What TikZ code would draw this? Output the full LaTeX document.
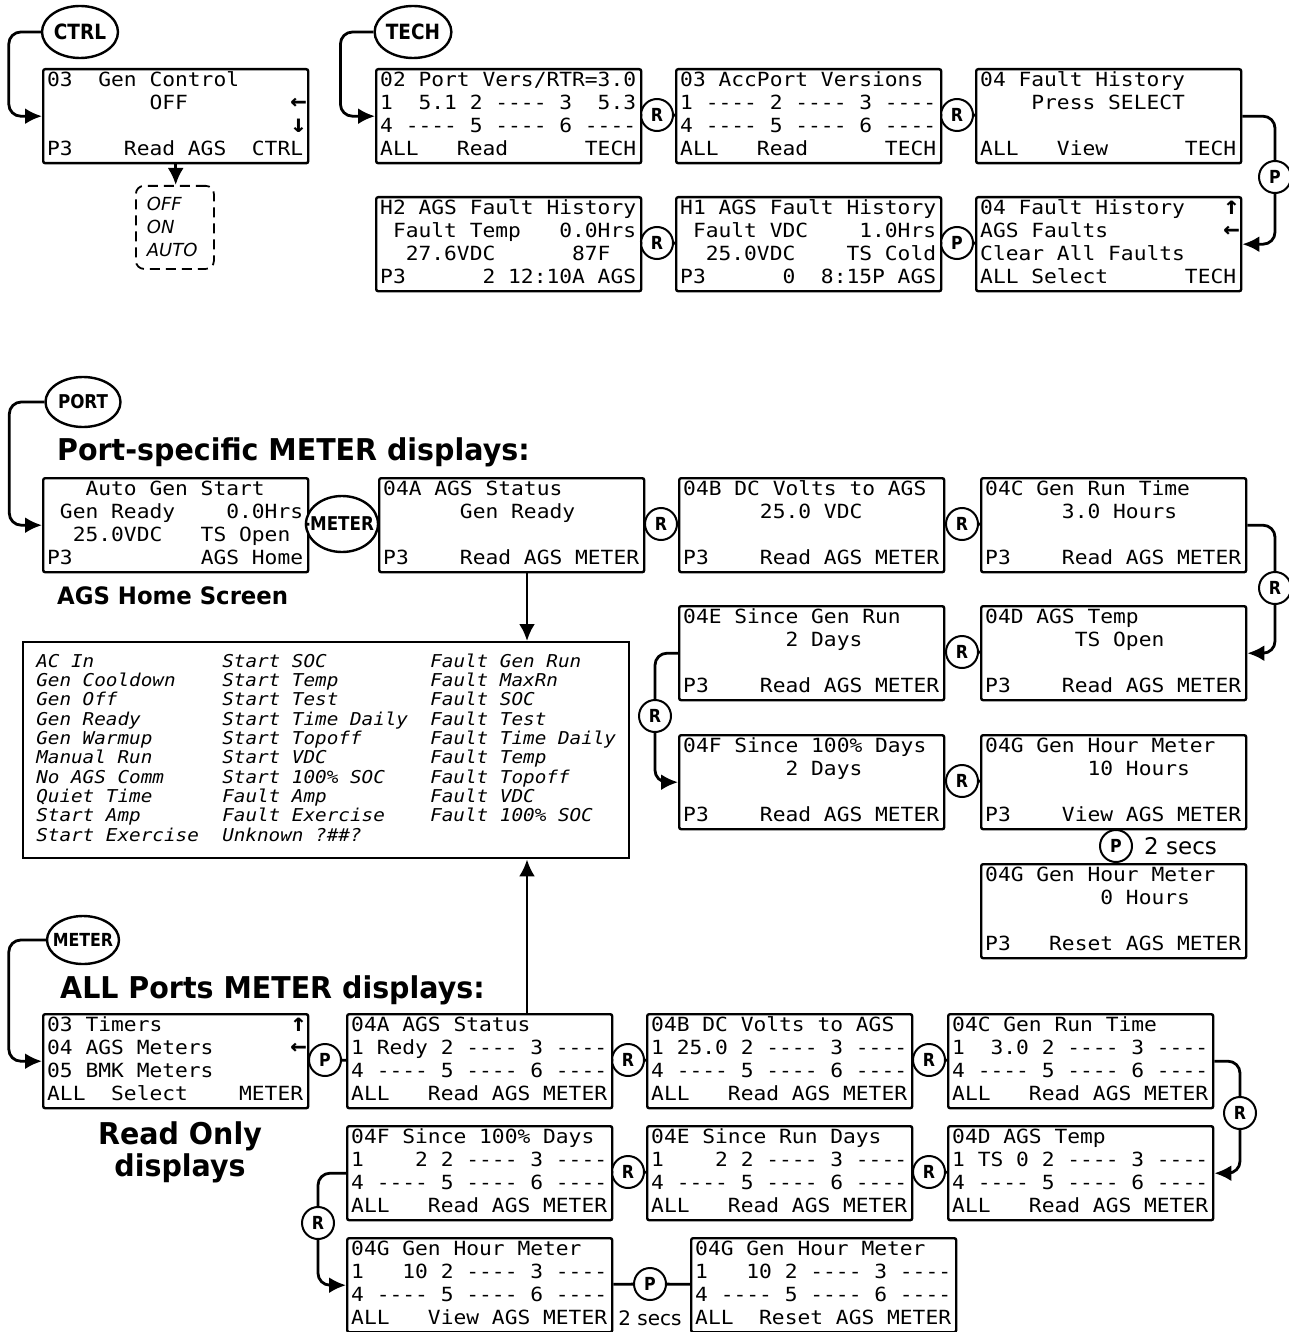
\documentclass[tikz,border=0pt]{standalone}
\usepackage{fontspec}
\setmainfont{DejaVu Sans}
\newfontfamily\lcdfont{DejaVu Sans Mono}[FakeStretch=1.09,WordSpace={1,0,0}]
\newfontfamily\headfont{DejaVu Sans}[FakeStretch=0.95]
\newfontfamily\keyfont{DejaVu Sans}[FakeStretch=0.88]
\usetikzlibrary{shapes.geometric,arrows.meta,positioning}
\newcommand{\lcd}[4]{\hyphenpenalty=10000\relax\strut#1\\\strut#2\\\strut#3\\\strut#4}
\newcommand{\cur}[1]{\rlap{\bfseries\fontsize{25pt}{23pt}\selectfont#1}}
\tikzset{
  screen/.style={draw, line width=2.4pt, rounded corners=2pt, anchor=north west,
    inner xsep=4pt, inner ysep=1pt, text width=257pt, align=flush left,
    font=\lcdfont\fontsize{19.5pt}{23pt}\selectfont},
  key/.style={circle, draw, line width=2pt, fill=white, inner sep=0pt,
    minimum size=32pt, font=\keyfont\bfseries\fontsize{18pt}{18pt}\selectfont},
  btn/.style={ellipse, draw, line width=2.4pt, fill=white, inner sep=0pt,
    minimum width=76pt, minimum height=52pt,
    font=\keyfont\bfseries\fontsize{21pt}{21pt}\selectfont},
  choices/.style={draw, line width=1.8pt, dash pattern=on 10pt off 6pt,
    rounded corners=8pt, anchor=north west, minimum width=78pt, minimum height=83pt,
    text width=56pt, inner xsep=11pt, align=flush left,
    font=\itshape\fontsize{18pt}{23pt}\selectfont},
  statebox/.style={draw, line width=2.4pt, anchor=north west, inner sep=0pt,
    minimum width=606pt, minimum height=216pt,
    font=\lcdfont\itshape\fontsize{17.7pt}{19.3pt}\selectfont},
  conn/.style={line width=2.8pt, rounded corners=12pt},
  arr/.style={conn, -{Latex[length=17pt,width=16pt]}},
  title/.style={anchor=west, inner sep=0pt, font=\headfont\bfseries\fontsize{30pt}{32pt}\selectfont},
  secs/.style={inner sep=0pt, font=\fontsize{20pt}{20pt}\selectfont},
}
\begin{document}
\begin{tikzpicture}[x=1pt,y=-1pt]
  \useasboundingbox (0,0) rectangle (1289,1332);
  % CTRL menu
  \node[btn] (ctrl) at (80,32) {CTRL};
  \node[screen] (gc) at (42,68) {\lcd{03~~Gen~Control}{~~~~~~~~OFF~~~~~~~~\cur{←}}{~~~~~~~~~~~~~~~~~~~\cur{↓}}{P3~~~~Read~AGS~~CTRL}};
  \node[choices] (opts) at (135,185) {OFF\\ON\\AUTO};
  \draw[arr] (ctrl.west) -- ++(-32,0) |- (gc.west);
  \draw[arr,rounded corners=0pt] (gc.south) -- (gc.south |- opts.north);
  % TECH menu
  \node[btn, minimum width=74pt] (tech) at (413,32) {TECH};
  \node[screen] (pv) at (375,68) {\lcd{02~Port~Vers/RTR=3.0}{1~~5.1~2~----~3~~5.3}{4~----~5~----~6~----}{ALL~~~Read~~~~~~TECH}};
  \node[screen] (apv) at (675,68) {\lcd{03~AccPort~Versions}{1~----~2~----~3~----}{4~----~5~----~6~----}{ALL~~~Read~~~~~~TECH}};
  \node[screen] (fh) at (975,68) {\lcd{04~Fault~History}{~~~~Press~SELECT}{~}{ALL~~~View~~~~~~TECH}};
  \node[screen] (h2) at (375,196) {\lcd{H2~AGS~Fault~History}{~Fault~Temp~~~0.0Hrs}{~~27.6VDC~~~~~~87F}{P3~~~~~~2~12:10A~AGS}};
  \node[screen] (h1) at (675,196) {\lcd{H1~AGS~Fault~History}{~Fault~VDC~~~~1.0Hrs}{~~25.0VDC~~~~TS~Cold}{P3~~~~~~0~~8:15P~AGS}};
  \node[screen] (fhsel) at (975,196) {\lcd{04~Fault~History~~~\cur{↑}}{AGS~Faults~~~~~~~~~\cur{←}}{Clear~All~Faults}{ALL~Select~~~~~~TECH}};
  \node[key] (rpv) at (657,115) {R};
  \node[key] (rapv) at (957,115) {R};
  \node[key] (pfh) at (1275,177) {P};
  \node[key] (rh) at (657,243) {R};
  \node[key] (ph) at (957,243) {P};
  \draw[arr] (tech.west) -- ++(-33,0) |- (pv.west);
  \draw[conn] (pv) -- (rpv) -- (apv);
  \draw[conn] (apv) -- (rapv) -- (fh);
  \draw[conn] (fh.east) -| (pfh);
  \draw[arr] (pfh) |- (fhsel.east);
  \draw[conn] (fhsel) -- (ph) -- (h1);
  \draw[conn] (h1) -- (rh) -- (h2);
  % Port-specific METER displays
  \node[btn, minimum width=75pt, minimum height=50pt, font=\keyfont\bfseries\fontsize{19pt}{19pt}\selectfont] (port) at (83,402) {PORT};
  \node[title] (porttitle) at (57,452) {Port-specific METER displays:};
  \node[screen] (home) at (42,477) {\lcd{~~~Auto~Gen~Start}{~Gen~Ready~~~~0.0Hrs}{~~25.0VDC~~~TS~Open}{P3~~~~~~~~~~AGS~Home}};
  \node[title, font=\headfont\bfseries\fontsize{24pt}{26pt}\selectfont] (hometitle) at (57,596) {AGS Home Screen};
  \node[btn, minimum width=72pt, minimum height=56pt, font=\keyfont\bfseries\fontsize{19pt}{19pt}\selectfont] (meterp) at (342,524) {\makebox[0pt]{METER}};
  \node[screen] (mA) at (378,477) {\lcd{04A~AGS~Status}{~~~~~~Gen~Ready}{~}{P3~~~~Read~AGS~METER}};
  \node[screen] (mB) at (678,477) {\lcd{04B~DC~Volts~to~AGS}{~~~~~~25.0~VDC}{~}{P3~~~~Read~AGS~METER}};
  \node[screen] (mC) at (980,477) {\lcd{04C~Gen~Run~Time}{~~~~~~3.0~Hours}{~}{P3~~~~Read~AGS~METER}};
  \node[screen] (mE) at (678,605) {\lcd{04E~Since~Gen~Run}{~~~~~~~~2~Days}{~}{P3~~~~Read~AGS~METER}};
  \node[screen] (mD) at (980,605) {\lcd{04D~AGS~Temp}{~~~~~~~TS~Open}{~}{P3~~~~Read~AGS~METER}};
  \node[screen] (mF) at (678,734) {\lcd{04F~Since~100\%~Days}{~~~~~~~~2~Days}{~}{P3~~~~Read~AGS~METER}};
  \node[screen] (mG) at (980,734) {\lcd{04G~Gen~Hour~Meter}{~~~~~~~~10~Hours}{~}{P3~~~~View~AGS~METER}};
  \node[screen] (mGr) at (980,863) {\lcd{04G~Gen~Hour~Meter}{~~~~~~~~~0~Hours}{~}{P3~~~Reset~AGS~METER}};
  \node[key] (rmab) at (661,524) {R};
  \node[key] (rmbc) at (962,524) {R};
  \node[key] (rmcd) at (1275,588) {R};
  \node[key] (rmde) at (962,652) {R};
  \node[key] (rmef) at (655,716) {R};
  \node[key] (rmfg) at (962,781) {R};
  \node[key] (pmg) at (1116,846) {P};
  \node[secs, anchor=west, font=\fontsize{23pt}{23pt}\selectfont] (msecs) at (1144,846) {2 secs};
  \draw[arr] (port.west) -- ++(-35,0) |- (home.west);
  \draw[conn] (home) -- (meterp) -- (mA);
  \draw[conn] (mA) -- (rmab) -- (mB);
  \draw[conn] (mB) -- (rmbc) -- (mC);
  \draw[conn] (mC.east) -| (rmcd);
  \draw[arr] (rmcd) |- (mD.east);
  \draw[conn] (mD) -- (rmde) -- (mE);
  \draw[conn] (mE.west) -| (rmef);
  \draw[arr] (rmef) |- (mF.west);
  \draw[conn] (mF) -- (rmfg) -- (mG);
  \draw[conn] (mG.south -| pmg) -- (pmg) -- (mGr.north -| pmg);
  % AGS state list
  \node[statebox] (states) at (22,641) {%
    \begin{tabular}{@{}p{186pt}@{}p{208pt}@{}l@{}}
      AC In & Start SOC & Fault Gen Run\\
      Gen Cooldown & Start Temp & Fault MaxRn\\
      Gen Off & Start Test & Fault SOC\\
      Gen Ready & Start Time Daily & Fault Test\\
      Gen Warmup & Start Topoff & Fault Time Daily\\
      Manual Run & Start VDC & Fault Temp\\
      No AGS Comm & Start 100\% SOC & Fault Topoff\\
      Quiet Time & Fault Amp & Fault VDC\\
      Start Amp & Fault Exercise & Fault 100\% SOC\\
      Start Exercise & Unknown ?\#\#? & \\
    \end{tabular}};
  \coordinate (drop) at (527,0);
  \draw[arr,rounded corners=0pt] (mA.south -| drop) -- (states.north -| drop);
  % ALL Ports METER displays
  \node[btn, minimum width=72pt, minimum height=48pt, font=\keyfont\bfseries\fontsize{18pt}{18pt}\selectfont] (meterb) at (83,940) {\makebox[0pt]{METER}};
  \node[title] (alltitle) at (60,990) {ALL Ports METER displays:};
  \node[screen] (tm) at (42,1013) {\lcd{03~Timers~~~~~~~~~~\cur{↑}}{04~AGS~Meters~~~~~~\cur{←}}{05~BMK~Meters}{ALL~~Select~~~~METER}};
  \node[title, anchor=center, align=center] (rotitle) at (180,1152) {Read Only\\displays};
  \node[screen] (aA) at (346,1013) {\lcd{04A~AGS~Status}{1~Redy~2~----~3~----}{4~----~5~----~6~----}{ALL~~~Read~AGS~METER}};
  \node[screen] (aB) at (646,1013) {\lcd{04B~DC~Volts~to~AGS}{1~25.0~2~----~3~----}{4~----~5~----~6~----}{ALL~~~Read~AGS~METER}};
  \node[screen] (aC) at (947,1013) {\lcd{04C~Gen~Run~Time}{1~~3.0~2~----~3~----}{4~----~5~----~6~----}{ALL~~~Read~AGS~METER}};
  \node[screen] (aF) at (346,1125) {\lcd{04F~Since~100\%~Days}{1~~~~2~2~----~3~----}{4~----~5~----~6~----}{ALL~~~Read~AGS~METER}};
  \node[screen] (aE) at (646,1125) {\lcd{04E~Since~Run~Days}{1~~~~2~2~----~3~----}{4~----~5~----~6~----}{ALL~~~Read~AGS~METER}};
  \node[screen] (aD) at (947,1125) {\lcd{04D~AGS~Temp}{1~TS~0~2~----~3~----}{4~----~5~----~6~----}{ALL~~~Read~AGS~METER}};
  \node[screen] (aG) at (346,1237) {\lcd{04G~Gen~Hour~Meter}{1~~~10~2~----~3~----}{4~----~5~----~6~----}{ALL~~~View~AGS~METER}};
  \node[screen] (aGr) at (690,1237) {\lcd{04G~Gen~Hour~Meter}{1~~~10~2~----~3~----}{4~----~5~----~6~----}{ALL~~Reset~AGS~METER}};
  \node[key] (pta) at (325,1060) {P};
  \node[key] (rab) at (628,1060) {R};
  \node[key] (rbc) at (929,1060) {R};
  \node[key] (rcd) at (1240,1113) {R};
  \node[key] (rde) at (929,1172) {R};
  \node[key] (ref) at (628,1172) {R};
  \node[key] (rfg) at (318,1223) {R};
  \node[key] (pg) at (650,1284) {P};
  \node[secs] (asecs) at (650,1318) {2 secs};
  \draw[arr] (meterb.west) -- ++(-37,0) |- (tm.west);
  \draw[conn] (tm) -- (pta) -- (aA);
  \draw[conn] (aA) -- (rab) -- (aB);
  \draw[conn] (aB) -- (rbc) -- (aC);
  \draw[conn] (aC.east) -| (rcd);
  \draw[arr] (rcd) |- (aD.east);
  \draw[conn] (aD) -- (rde) -- (aE);
  \draw[conn] (aE) -- (ref) -- (aF);
  \draw[conn] (aF.west) -| (rfg);
  \draw[arr] (rfg) |- (aG.west);
  \draw[conn] (aG) -- (pg) -- (aGr);
  \draw[arr,rounded corners=0pt] (aA.north -| drop) -- (states.south -| drop);
\end{tikzpicture}
\end{document}
